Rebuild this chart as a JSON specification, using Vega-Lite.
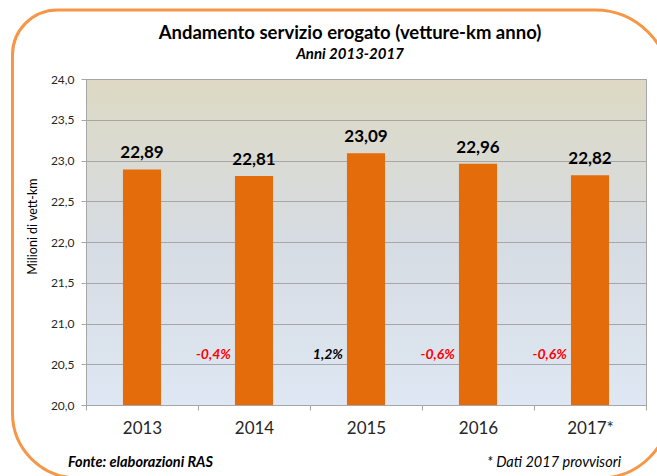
{
  "$schema": "https://vega.github.io/schema/vega-lite/v6.json",
  "autosize": {"type": "none"},
  "width": 560,
  "height": 326,
  "padding": {"left": 86, "top": 79, "right": 11, "bottom": 71},
  "background": "#FFFFFF",
  "config": {
    "font": "Lato",
    "locale": {"number": {"decimal": ",", "thousands": ".", "grouping": [3], "currency": ["", " €"], "minus": "-", "percent": "%"}},
    "view": {
      "stroke": "#A6A6A6",
      "strokeWidth": 1,
      "fill": {
        "gradient": "linear", "x1": 0, "y1": 0, "x2": 0, "y2": 1,
        "stops": [
          {"offset": 0, "color": "#DDD9C3"},
          {"offset": 0.5, "color": "#D6DCE3"},
          {"offset": 1, "color": "#DEE7F3"}
        ]
      }
    },
    "title": {
      "font": "Lato", "fontSize": 18.5, "fontWeight": "bold", "color": "#000000",
      "subtitleFont": "Lato", "subtitleFontSize": 15, "subtitleFontStyle": "italic", "subtitleFontWeight": "bold", "subtitleColor": "#000000",
      "anchor": "middle", "frame": "group", "offset": 18, "subtitlePadding": 5
    }
  },
  "title": {"text": "Andamento servizio erogato (vetture-km anno)", "subtitle": "Anni 2013-2017", "dx": -16, "dy": 72},
  "resolve": {"scale": {"x": "independent", "y": "independent"}},
  "layer": [
    {
      "data": {"values": [{"frame": "box"}]},
      "mark": {"type": "rect", "fill": "transparent", "stroke": "#F79646", "strokeWidth": 3,
        "cornerRadiusTopLeft": 45, "cornerRadiusTopRight": 75, "cornerRadiusBottomLeft": 65, "cornerRadiusBottomRight": 70, "clip": false},
      "encoding": {
        "x": {"datum": -0.1313, "type": "quantitative", "scale": {"domain": [0, 1], "nice": false, "zero": false}, "axis": null},
        "x2": {"datum": 1.0429},
        "y": {"datum": 1.2117, "type": "quantitative", "scale": {"domain": [0, 1], "nice": false, "zero": false}, "axis": null},
        "y2": {"datum": -0.2239}
      }
    },
    {
      "data": {"values": [
        {"year": "2013", "value": 22.89, "pct": null},
        {"year": "2014", "value": 22.81, "pct": -0.004},
        {"year": "2015", "value": 23.09, "pct": 0.012},
        {"year": "2016", "value": 22.96, "pct": -0.006},
        {"year": "2017*", "value": 22.82, "pct": -0.006}
      ]},
      "encoding": {
        "x": {
          "field": "year", "type": "nominal", "sort": null,
          "scale": {"paddingInner": 0, "paddingOuter": 0},
          "axis": {
            "title": null, "labelAngle": 0, "labelFontSize": 17, "labelColor": "#262626",
            "tickBand": "extent", "ticks": true, "tickSize": 5, "tickColor": "#A6A6A6",
            "domainColor": "#A6A6A6", "labelPadding": 10, "grid": false
          }
        },
        "y": {
          "type": "quantitative",
          "scale": {"domain": [20, 24], "nice": false, "zero": false},
          "axis": {
            "title": "Milioni di vett-km", "titleFontSize": 12.5, "titleFontWeight": "normal", "titleColor": "#000000",
            "titlePadding": 11, "titleY": 147,
            "values": [20, 20.5, 21, 21.5, 22, 22.5, 23, 23.5, 24], "format": ".1f",
            "labelFontSize": 12, "labelColor": "#262626", "labelPadding": 7,
            "tickSize": 5, "tickColor": "#A6A6A6", "domainColor": "#A6A6A6",
            "grid": true, "gridColor": "#A6A6A6", "gridWidth": 1
          }
        }
      },
      "layer": [
        {
          "mark": {"type": "bar", "color": "#E46C0A", "width": {"band": 0.34}},
          "encoding": {"y": {"field": "value", "type": "quantitative"}, "y2": {"datum": 20}}
        },
        {
          "mark": {"type": "text", "fontSize": 17, "fontWeight": "bold", "baseline": "alphabetic", "dy": -11, "color": "#000000"},
          "encoding": {
            "y": {"field": "value", "type": "quantitative"},
            "text": {"field": "value", "type": "quantitative", "format": ".2f"}
          }
        },
        {
          "transform": [{"filter": "isValid(datum.pct)"}],
          "mark": {"type": "text", "fontSize": 14, "fontWeight": "bold", "fontStyle": "italic", "baseline": "alphabetic", "align": "right", "dx": -23, "dy": -5},
          "encoding": {
            "y": {"datum": 20.5, "type": "quantitative"},
            "text": {"field": "pct", "type": "quantitative", "format": ".1%"},
            "color": {"condition": {"test": "datum.pct < 0", "value": "#FF0000"}, "value": "#000000"}
          }
        },
        {
          "data": {"values": [{"note": "Fonte: elaborazioni RAS"}]},
          "mark": {"type": "text", "fontSize": 14.5, "fontWeight": "bold", "fontStyle": "italic", "baseline": "alphabetic", "align": "left", "dx": -74, "color": "#000000"},
          "encoding": {
            "x": {"datum": "2013"},
            "y": {"datum": 19.24, "type": "quantitative"},
            "text": {"field": "note", "type": "nominal"}
          }
        },
        {
          "data": {"values": [{"note": "* Dati 2017 provvisori"}]},
          "mark": {"type": "text", "fontSize": 14.5, "fontStyle": "italic", "baseline": "alphabetic", "align": "right", "dx": 31, "color": "#000000"},
          "encoding": {
            "x": {"datum": "2017*"},
            "y": {"datum": 19.24, "type": "quantitative"},
            "text": {"field": "note", "type": "nominal"}
          }
        }
      ]
    }
  ]
}
